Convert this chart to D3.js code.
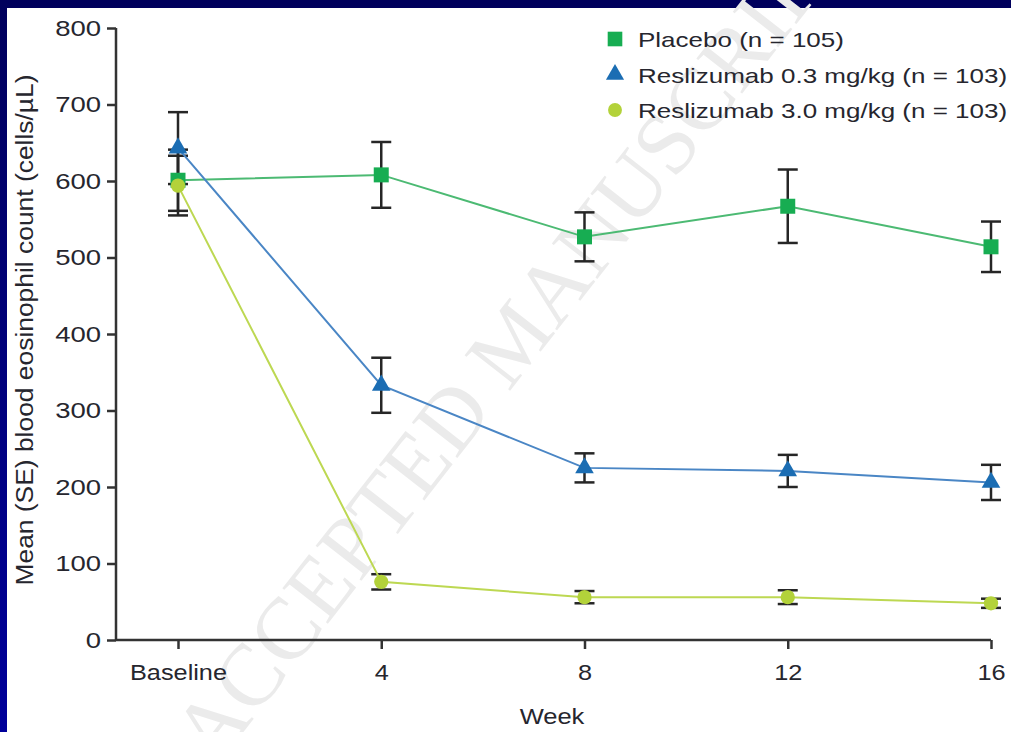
<!DOCTYPE html>
<html>
<head>
<meta charset="utf-8">
<script src="https://cdn.jsdelivr.net/npm/d3@7"></script>
<style>
  body { margin: 0; padding: 0; overflow: hidden; }
  svg text { font-family: "Liberation Sans", Arial, sans-serif; fill: #26262e; }
</style>
</head>
<body>
<div id="chart"></div>
<script>

// Data
var weeks = ["Baseline", "4", "8", "12", "16"];

var placeboMean = [601, 608, 527, 567, 514];
var placeboSE   = [40, 43, 32, 48, 33];

var lowDoseMean = [643, 333, 225, 221, 206];
var lowDoseSE   = [47, 36, 19, 21, 23];

var highDoseMean = [594, 76, 56, 56, 48];
var highDoseSE   = [39, 10, 8, 9, 6];

var yTicks = [0, 100, 200, 300, 400, 500, 600, 700, 800];

var seriesNames = ["Placebo (n = 105)", "Reslizumab 0.3 mg/kg (n = 103)", "Reslizumab 3.0 mg/kg (n = 103)"];

var W = 1011, H = 732;

// Build series list for drawing
var series = [
    {name: seriesNames[0], mean: placeboMean, se: placeboSE, symbol: d3.symbolSquare, size: 225,
     fill: "#17ad52", line: "#4cba73"},
    {name: seriesNames[2], mean: highDoseMean, se: highDoseSE, symbol: d3.symbolCircle, size: 160,
     fill: "#b3d23a", line: "#bdd852"},
    {name: seriesNames[1], mean: lowDoseMean, se: lowDoseSE, symbol: d3.symbolTriangle, size: 150,
     fill: "#1b6db3", line: "#4a86c5"}
];
var legendOrder = [0, 2, 1];

var svg = d3.select("#chart").append("svg")
    .attr("width", W)
    .attr("height", H);

// navy frame
var grad = svg.append("defs").append("linearGradient")
    .attr("id", "frame").attr("x1", 0).attr("y1", 0).attr("x2", 0).attr("y2", 1);
grad.append("stop").attr("offset", "0%").attr("stop-color", "#00005c");
grad.append("stop").attr("offset", "100%").attr("stop-color", "#00009a");

svg.append("rect").attr("width", W).attr("height", H).attr("fill", "url(#frame)");
svg.append("rect").attr("x", 7).attr("y", 8).attr("width", W - 7).attr("height", H - 8).attr("fill", "#ffffff");

// watermark (runs off the page like in the picture)
var wm = svg.append("g");
wm.append("text")
    .attr("transform", "translate(512,338) rotate(-52)")
    .attr("text-anchor", "middle")
    .attr("dy", "0.35em")
    .style("font-family", "'Liberation Serif', 'Times New Roman', serif")
    .style("font-size", "88px")
    .style("fill", "#ebebeb")
    .text("ACCEPTED MANUSCRIPT");

// Scales
var x = d3.scalePoint().domain(weeks).range([178, 991]);
var y = d3.scaleLinear().domain([0, 800]).range([640, 28]);
var xLeft = 116;

// Axes
var yAxis = d3.axisLeft(y).tickValues(yTicks).tickSize(9).tickPadding(6);
var xAxis = d3.axisBottom(x).tickSize(9).tickPadding(15);

var gy = svg.append("g")
    .attr("transform", "translate(" + xLeft + ",0)")
    .call(yAxis);
gy.select(".domain").remove();
gy.append("line").attr("x1", 0).attr("x2", 0).attr("y1", y(800)).attr("y2", y(0));

var gx = svg.append("g")
    .attr("transform", "translate(0," + y(0) + ")")
    .call(xAxis);
gx.select(".domain").remove();
gx.append("line").attr("x1", xLeft).attr("x2", x("16")).attr("y1", 0).attr("y2", 0);

[gy, gx].forEach(function(g) {
    g.selectAll("line").attr("stroke", "#333").attr("stroke-width", 2.5);
    g.selectAll("text")
        .attr("fill", null)
        .style("font-size", "22px");
});
// stretch tick labels sideways like the picture
gy.selectAll(".tick text").each(function() {
    var t = d3.select(this);
    t.attr("transform", "translate(" + t.attr("x") + ",0) scale(1.25,1)").attr("x", 0);
});
gx.selectAll(".tick text").attr("transform", "scale(1.15,1)");

// Axis titles
svg.append("text")
    .attr("transform", "translate(552,724) scale(1.16,1)")
    .attr("text-anchor", "middle")
    .style("font-size", "22px")
    .text("Week");

svg.append("text")
    .attr("transform", "translate(33,330) rotate(-90) scale(1.1,1)")
    .attr("text-anchor", "middle")
    .style("font-size", "24px")
    .text("Mean (SE) blood eosinophil count (cells/\u00b5L)");

// Series
var line = d3.line()
    .x(function(d, i) { return x(weeks[i]); })
    .y(function(d) { return y(d); });

var capW = 10;

series.forEach(function(s) {
    var g = svg.append("g");
    // error bars
    var eb = g.selectAll(".err").data(s.mean).enter().append("g")
        .attr("stroke", "#262626").attr("stroke-width", 2.5);
    eb.append("line")
        .attr("x1", function(d, i) { return x(weeks[i]); })
        .attr("x2", function(d, i) { return x(weeks[i]); })
        .attr("y1", function(d, i) { return y(d + s.se[i]); })
        .attr("y2", function(d, i) { return y(d - s.se[i]); });
    eb.append("line")
        .attr("x1", function(d, i) { return x(weeks[i]) - capW; })
        .attr("x2", function(d, i) { return x(weeks[i]) + capW; })
        .attr("y1", function(d, i) { return y(d + s.se[i]); })
        .attr("y2", function(d, i) { return y(d + s.se[i]); });
    eb.append("line")
        .attr("x1", function(d, i) { return x(weeks[i]) - capW; })
        .attr("x2", function(d, i) { return x(weeks[i]) + capW; })
        .attr("y1", function(d, i) { return y(d - s.se[i]); })
        .attr("y2", function(d, i) { return y(d - s.se[i]); });
});

series.forEach(function(s) {
    var g = svg.append("g");
    g.append("path")
        .attr("d", line(s.mean))
        .attr("fill", "none")
        .attr("stroke", s.line)
        .attr("stroke-width", 2);
    g.selectAll(".pt").data(s.mean).enter().append("path")
        .attr("transform", function(d, i) { return "translate(" + x(weeks[i]) + "," + y(d) + ")"; })
        .attr("d", d3.symbol().type(s.symbol).size(s.size))
        .attr("fill", s.fill);
});

// Legend
var legend = svg.append("g").attr("transform", "translate(615,39)");
legendOrder.forEach(function(k, row) {
    var s = series[k];
    var r = legend.append("g").attr("transform", "translate(0," + (row * 35.5) + ")");
    r.append("path")
        .attr("d", d3.symbol().type(s.symbol).size(s.size * 0.95))
        .attr("fill", s.fill);
    r.append("text")
        .attr("transform", "translate(23,8) scale(1.3,1)")
        .style("font-size", "20px")
        .text(s.name);
});

</script>
</body>
</html>
